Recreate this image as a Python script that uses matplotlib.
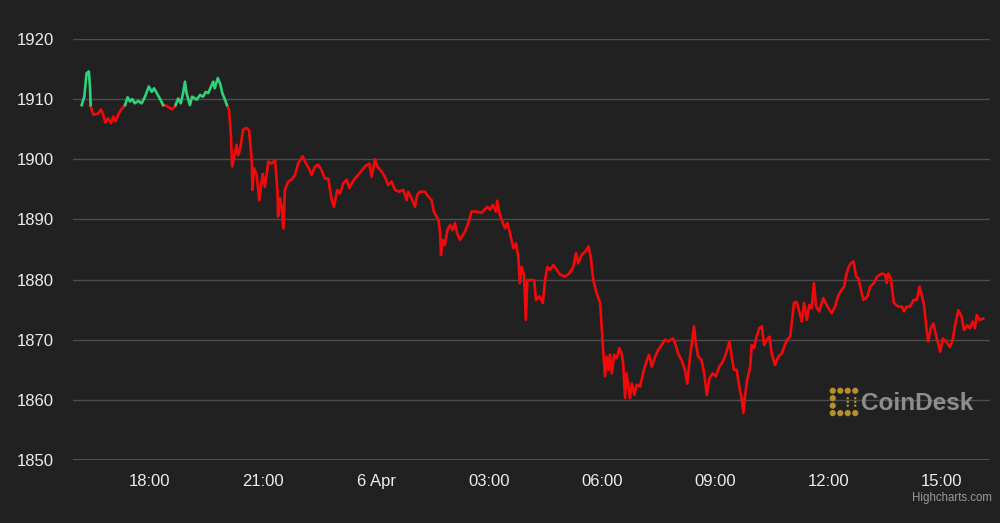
import matplotlib
matplotlib.use("Agg")
import matplotlib.pyplot as plt
import numpy as np

# hours since 00:00 on 5 Apr, price in USD
hours = [
    16.19, 16.26, 16.32, 16.38, 16.41, 16.43, 16.50, 16.63, 16.70, 16.76,
    16.82, 16.89, 16.97, 17.03, 17.09, 17.16, 17.23, 17.34, 17.41, 17.47,
    17.53, 17.60, 17.69, 17.78, 17.87, 17.97, 18.05, 18.11, 18.18, 18.27,
    18.35, 18.44, 18.58, 18.66, 18.75, 18.82, 18.88, 18.93, 18.97, 19.06,
    19.12, 19.24, 19.33, 19.41, 19.48, 19.55, 19.62, 19.68, 19.72, 19.80,
    19.86, 19.92, 19.99, 20.06, 20.10, 20.15, 20.18, 20.24, 20.30, 20.34,
    20.39, 20.47, 20.56, 20.63, 20.70, 20.72, 20.76, 20.83, 20.90, 20.99,
    21.05, 21.14, 21.23, 21.32, 21.38, 21.40, 21.45, 21.49, 21.54, 21.58,
    21.67, 21.76, 21.85, 21.93, 22.05, 22.14, 22.24, 22.29, 22.38, 22.46,
    22.55, 22.64, 22.73, 22.82, 22.88, 22.97, 23.04, 23.13, 23.22, 23.29,
    23.38, 23.48, 23.59, 23.70, 23.82, 23.88, 23.97, 24.03, 24.15, 24.23,
    24.32, 24.41, 24.50, 24.61, 24.72, 24.81, 24.85, 24.94, 25.03, 25.09,
    25.16, 25.29, 25.38, 25.47, 25.53, 25.65, 25.69, 25.72, 25.76, 25.82,
    25.89, 25.96, 26.03, 26.09, 26.15, 26.22, 26.36, 26.47, 26.53, 26.65,
    26.80, 26.95, 27.02, 27.09, 27.18, 27.21, 27.27, 27.36, 27.42, 27.48,
    27.55, 27.64, 27.71, 27.77, 27.81, 27.86, 27.92, 27.97, 28.01, 28.10,
    28.19, 28.24, 28.33, 28.42, 28.48, 28.54, 28.61, 28.70, 28.79, 28.88,
    29.01, 29.12, 29.23, 29.30, 29.36, 29.45, 29.54, 29.63, 29.69, 29.76,
    29.85, 29.94, 29.98, 30.02, 30.07, 30.11, 30.16, 30.20, 30.25, 30.31,
    30.38, 30.45, 30.51, 30.55, 30.60, 30.64, 30.69, 30.73, 30.78, 30.85,
    30.91, 31.00, 31.09, 31.18, 31.24, 31.31, 31.40, 31.48, 31.57, 31.66,
    31.75, 31.87, 31.93, 32.01, 32.10, 32.19, 32.25, 32.31, 32.37, 32.43,
    32.48, 32.54, 32.63, 32.70, 32.77, 32.84, 32.93, 33.01, 33.10, 33.19,
    33.28, 33.37, 33.43, 33.49, 33.56, 33.63, 33.70, 33.74, 33.78, 33.84,
    33.92, 33.96, 34.02, 34.09, 34.16, 34.23, 34.29, 34.36, 34.43, 34.49,
    34.58, 34.67, 34.76, 34.84, 34.90, 34.98, 35.02, 35.08, 35.15, 35.22,
    35.29, 35.35, 35.42, 35.49, 35.55, 35.61, 35.67, 35.75, 35.86, 35.97,
    36.08, 36.17, 36.26, 36.35, 36.41, 36.46, 36.52, 36.59, 36.66, 36.73,
    36.79, 36.85, 36.92, 37.03, 37.10, 37.20, 37.29, 37.41, 37.50, 37.54,
    37.58, 37.65, 37.73, 37.85, 37.94, 38.00, 38.07, 38.16, 38.25, 38.34,
    38.41, 38.47, 38.53, 38.60, 38.64, 38.71, 38.78, 38.87, 38.96, 39.03,
    39.11, 39.22, 39.29, 39.35, 39.44, 39.53, 39.59, 39.68, 39.75, 39.82,
    39.88, 39.93, 40.00, 40.10,
]
prices = [
    1909.0, 1910.4, 1914.3, 1914.6, 1912.1, 1908.7, 1907.4, 1907.6, 1908.3, 1907.4,
    1906.1, 1906.8, 1906.0, 1907.1, 1906.3, 1907.4, 1908.2, 1909.0, 1910.3, 1909.6,
    1910.0, 1909.3, 1909.7, 1909.3, 1910.4, 1912.1, 1911.2, 1911.8, 1911.0, 1910.0,
    1909.0, 1908.9, 1908.3, 1908.7, 1910.1, 1909.3, 1911.0, 1912.9, 1911.0, 1909.0,
    1910.4, 1909.9, 1910.7, 1910.4, 1911.2, 1911.0, 1912.1, 1912.9, 1911.8, 1913.5,
    1912.6, 1911.0, 1909.9, 1908.7, 1908.2, 1903.8, 1898.8, 1900.4, 1902.4, 1900.7,
    1901.5, 1904.9, 1905.2, 1904.8, 1899.9, 1894.9, 1898.5, 1897.4, 1893.2, 1897.6,
    1895.4, 1899.6, 1899.3, 1899.8, 1894.9, 1890.5, 1893.5, 1892.1, 1888.5, 1894.9,
    1896.3, 1896.6, 1897.4, 1899.3, 1900.5, 1899.3, 1898.2, 1897.4, 1898.8, 1899.1,
    1898.2, 1896.8, 1896.8, 1893.2, 1892.1, 1894.9, 1894.3, 1896.0, 1896.6, 1895.2,
    1896.3, 1897.1, 1897.9, 1898.8, 1899.3, 1897.1, 1900.0, 1898.8, 1897.9, 1897.1,
    1895.7, 1896.3, 1894.9, 1894.6, 1894.9, 1893.2, 1894.6, 1893.5, 1892.1, 1894.1,
    1894.6, 1894.6, 1893.8, 1893.2, 1891.3, 1889.9, 1888.2, 1884.1, 1886.6, 1885.7,
    1888.2, 1889.1, 1888.2, 1889.4, 1887.7, 1886.6, 1888.0, 1889.9, 1891.3, 1891.3,
    1891.1, 1892.1, 1891.6, 1892.4, 1891.3, 1893.1, 1891.0, 1889.4, 1888.5, 1889.4,
    1887.7, 1885.2, 1886.0, 1883.8, 1879.4, 1882.1, 1880.8, 1873.3, 1879.9, 1879.9,
    1879.9, 1876.6, 1877.2, 1876.1, 1879.9, 1882.1, 1881.6, 1882.4, 1881.6, 1880.8,
    1880.5, 1881.0, 1882.1, 1884.4, 1882.7, 1884.1, 1884.6, 1885.5, 1883.8, 1879.9,
    1877.7, 1876.1, 1872.2, 1868.3, 1863.9, 1867.2, 1865.0, 1867.5, 1864.4, 1867.5,
    1866.9, 1868.6, 1867.7, 1866.1, 1860.3, 1864.4, 1862.2, 1860.3, 1862.7, 1860.8,
    1862.5, 1862.2, 1864.7, 1866.6, 1867.5, 1865.5, 1867.2, 1868.3, 1869.1, 1870.0,
    1869.7, 1870.2, 1869.4, 1867.7, 1866.6, 1865.0, 1862.7, 1866.3, 1869.4, 1872.2,
    1869.4, 1867.2, 1866.6, 1864.4, 1860.8, 1863.6, 1864.4, 1863.9, 1865.5, 1866.3,
    1867.7, 1869.7, 1867.2, 1865.0, 1865.0, 1862.2, 1860.0, 1857.8, 1860.5, 1863.3,
    1865.5, 1869.1, 1868.6, 1870.5, 1871.9, 1872.2, 1869.1, 1870.0, 1870.5, 1867.7,
    1865.8, 1867.2, 1867.7, 1869.1, 1870.0, 1870.5, 1872.7, 1876.1, 1876.3, 1874.7,
    1873.0, 1876.1, 1873.3, 1875.8, 1875.2, 1879.4, 1875.5, 1874.7, 1876.9, 1875.5,
    1874.4, 1875.5, 1877.4, 1878.3, 1878.8, 1880.5, 1881.9, 1882.7, 1883.0, 1880.5,
    1880.2, 1878.5, 1876.6, 1877.2, 1878.8, 1879.4, 1880.5, 1881.0, 1880.8, 1879.4,
    1881.0, 1880.2, 1876.1, 1875.5, 1875.5, 1874.7, 1875.5, 1875.5, 1876.6, 1876.6,
    1878.8, 1877.4, 1875.8, 1871.6, 1869.7, 1871.9, 1872.7, 1870.2, 1868.0, 1870.2,
    1869.7, 1868.8, 1870.0, 1872.2, 1874.9, 1873.8, 1871.6, 1872.4, 1871.9, 1873.0,
    1871.9, 1874.1, 1873.3, 1873.5,
]

tick_hours = [18, 21, 24, 27, 30, 33, 36, 39]
tick_labels = ["18:00", "21:00", "6 Apr", "03:00", "06:00", "09:00", "12:00", "15:00"]
y_ticks = [1850, 1860, 1870, 1880, 1890, 1900, 1910, 1920]

bg = "#212121"
up_color = "#2fd27a"
down_color = "#f20a0a"

plt.rcParams["font.family"] = ["Liberation Sans", "DejaVu Sans"]

x = np.array(hours)
y = np.array(prices)
threshold = y[0]

# insert crossing points so the two colours meet at the threshold
xs, ys = [x[0]], [y[0]]
for i in range(1, len(x)):
    a, b = y[i - 1] - threshold, y[i] - threshold
    if a * b < 0:
        f = a / (a - b)
        xs.append(x[i - 1] + f * (x[i] - x[i - 1]))
        ys.append(threshold)
    xs.append(x[i])
    ys.append(y[i])
xs = np.array(xs)
ys = np.array(ys)
above = np.where(ys >= threshold, ys, np.nan)
below = np.where(ys <= threshold, ys, np.nan)

fig = plt.figure(figsize=(10, 5.23), dpi=100, facecolor=bg)
ax = fig.add_axes([0.073, 0.1205, 0.917, 0.805])
ax.set_facecolor(bg)

ax.plot(xs, below, color=down_color, lw=1.9, solid_joinstyle="round", zorder=3)
ax.plot(xs, above, color=up_color, lw=1.9, solid_joinstyle="round", zorder=3)

ax.set_ylim(1850, 1920)
ax.set_xlim(15.96, 40.28)
ax.set_yticks(y_ticks)
ax.set_xticks(tick_hours)
ax.set_xticklabels(tick_labels)
ax.grid(axis="y", color="#4d4d4d", lw=1)
ax.set_axisbelow(True)
for side in ["top", "right", "left", "bottom"]:
    ax.spines[side].set_visible(False)
ax.tick_params(axis="both", length=0, colors="#ececec", labelsize=12)
ax.tick_params(axis="y", pad=14)
ax.tick_params(axis="x", pad=10)
ax.axhline(1850, color="#5a5a5a", lw=1.2, zorder=2)

# CoinDesk watermark
logo = fig.add_axes([0.829, 0.203, 0.03, 0.057])
logo.set_facecolor("none")
logo.axis("off")
logo_x = [0, 0, 0, 0, 1, 2, 3, 1, 2, 3, 2, 3, 2, 3, 2, 3]
logo_y = [0, 1, 2, 3, 3, 3, 3, 0, 0, 0, 1.0, 1.0, 1.5, 1.5, 2.0, 2.0]
logo_s = [20, 20, 20, 20, 20, 20, 20, 20, 20, 20, 3, 3, 3, 3, 3, 3]
logo.scatter(logo_x, logo_y, s=logo_s, color="#b48f2b", marker="o", linewidths=0)
logo.set_xlim(-0.5, 3.5)
logo.set_ylim(-0.5, 3.5)
fig.text(0.861, 0.229, "CoinDesk", color="#8e8e8e", fontsize=17.5,
         fontweight="bold", va="center", ha="left")

fig.text(0.992, 0.048, "Highcharts.com", color="#9a9a9a", fontsize=8.3,
         ha="right", va="center")

fig.savefig("out.png", dpi=100, facecolor=bg)
